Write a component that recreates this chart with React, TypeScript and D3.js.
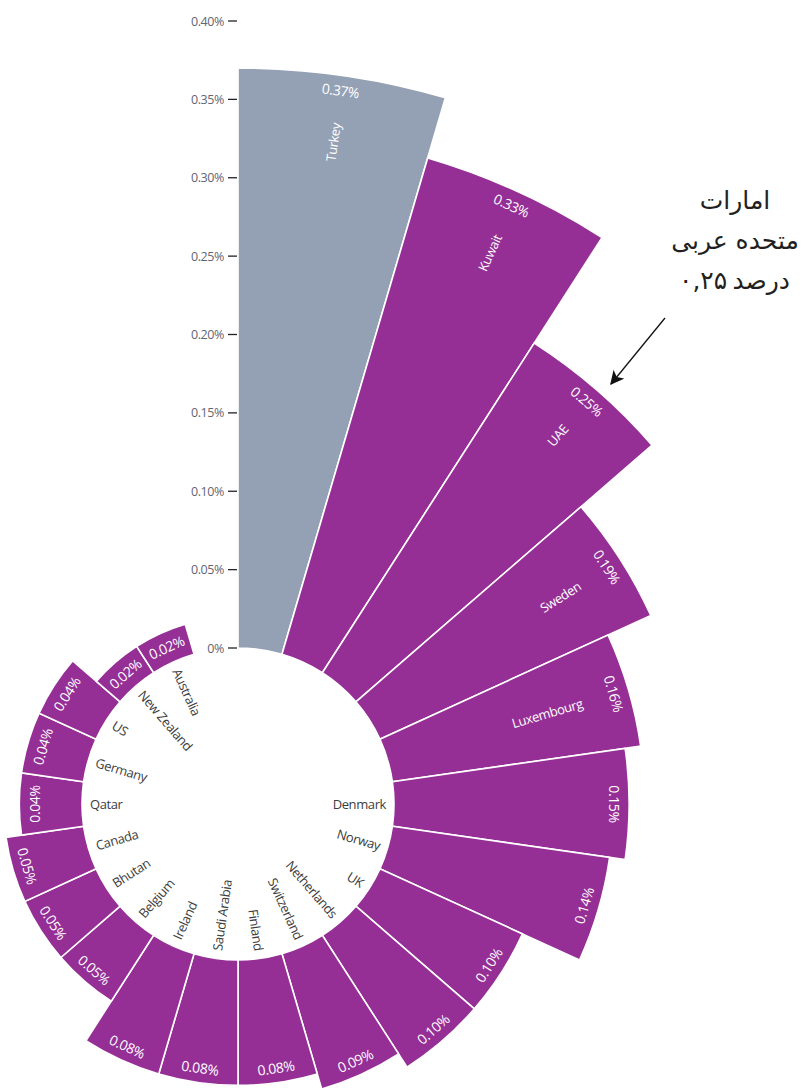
import React from 'react';
import * as d3 from 'd3';

// data (share of GDP, %)
const countries = [
  'Turkey', 'Kuwait', 'UAE', 'Sweden', 'Luxembourg', 'Denmark', 'Norway', 'UK',
  'Netherlands', 'Switzerland', 'Finland', 'Saudi Arabia', 'Ireland', 'Belgium',
  'Bhutan', 'Canada', 'Qatar', 'Germany', 'US', 'New Zealand', 'Australia',
];
const values = [
  0.37, 0.33, 0.25, 0.19, 0.16, 0.15, 0.14, 0.10, 0.10, 0.09, 0.08, 0.08, 0.08,
  0.05, 0.05, 0.05, 0.04, 0.04, 0.04, 0.02, 0.02,
];
const valueLabels = [
  '0.37%', '0.33%', '0.25%', '0.19%', '0.16%', '0.15%', '0.14%', '0.10%', '0.10%',
  '0.09%', '0.08%', '0.08%', '0.08%', '0.05%', '0.05%', '0.05%', '0.04%', '0.04%',
  '0.04%', '0.02%', '0.02%',
];
const highlighted = ['Turkey'];
const tickValues = [0, 0.05, 0.1, 0.15, 0.2, 0.25, 0.3, 0.35, 0.4];
const tickLabels = ['0%', '0.05%', '0.10%', '0.15%', '0.20%', '0.25%', '0.30%', '0.35%', '0.40%'];
const noteLines = ['امارات', 'متحده عربی'];
// last note line: number on the left, word on the right (drawn apart to avoid bidi reordering)
const noteNumber = '۰,۲۵';
const noteWord = 'درصد';

const W = 804;
const H = 1089;
const cx = 238;
const cy = 804;
const inner = 156;
const slots = 22; // one empty slot at the end, where the axis sits
const insideMin = 0.16; // names drawn inside the bar from here up

const PURPLE = '#952f96';
const GREY = '#94a1b4';
const FONT = "'Open Sans', sans-serif";
const NOTE_FONT = "'DejaVu Sans', sans-serif";

const App = () => {
  const r = d3.scaleLinear().domain([0, 0.4]).range([inner, inner + 627]);
  const angle = d3.scaleBand<number>()
    .domain(d3.range(slots))
    .range([0, 2 * Math.PI]);

  const arc = d3.arc<any>()
    .innerRadius(inner)
    .outerRadius((d) => r(d.v))
    .startAngle((d) => angle(d.i)!)
    .endAngle((d) => angle(d.i)! + angle.bandwidth());

  const pt = (rad: number, a: number) => [cx + rad * Math.sin(a), cy - rad * Math.cos(a)];

  return (
    <svg width={W} height={H} style={{ position: 'absolute', left: 0, top: 0, background: '#fff' }}>
      <g transform={`translate(${cx},${cy})`}>
        {values.map((v, i) => (
          <path
            key={countries[i]}
            d={arc({ v, i })!}
            fill={highlighted.includes(countries[i]) ? GREY : PURPLE}
            stroke="#fff"
            strokeWidth={1.6}
          />
        ))}
      </g>

      {/* value labels, tangential near the outer edge */}
      {values.map((v, i) => {
        const a = angle(i)! + angle.bandwidth() / 2;
        const deg = (a * 180) / Math.PI;
        const rot = deg > 90 && deg < 270 ? deg - 180 : deg >= 270 ? deg - 360 : deg;
        const [x, y] = pt(r(v) - 15, a);
        return (
          <text
            key={'v' + i}
            x={x}
            y={y}
            transform={`rotate(${rot},${x},${y})`}
            textAnchor="middle"
            dominantBaseline="central"
            fill="#fff"
            fontFamily={FONT}
            fontSize={14}
            letterSpacing={-0.4}
          >
            {valueLabels[i]}
          </text>
        );
      })}

      {/* country names, radial */}
      {countries.map((c, i) => {
        const a = angle(i)! + angle.bandwidth() / 2;
        const deg = (a * 180) / Math.PI;
        const inside = values[i] >= insideMin;
        const right = deg < 180;
        const rad = inside ? r(values[i]) - 48 : inner - 8;
        const [x, y] = pt(rad, a);
        const rot = right ? deg - 90 : deg - 270;
        return (
          <text
            key={'n' + i}
            x={x}
            y={y}
            transform={`rotate(${rot},${x},${y})`}
            textAnchor={right ? 'end' : 'start'}
            dominantBaseline="central"
            fill={inside ? '#fff' : '#3d3d3d'}
            fontFamily={FONT}
            fontSize={13}
            letterSpacing={-0.4}
          >
            {c}
          </text>
        );
      })}

      {/* radial axis */}
      <g>
        {tickValues.map((t, i) => (
          <g key={t} transform={`translate(${cx},${cy - r(t)})`}>
            <line x1={-10} x2={-1} y1={0} y2={0} stroke="#222" strokeWidth={1.3} />
            <text
              x={-14}
              y={0}
              textAnchor="end"
              dominantBaseline="central"
              fill="#5f6676"
              fontFamily={FONT}
              fontSize={12.5}
              letterSpacing={-0.4}
            >
              {tickLabels[i]}
            </text>
          </g>
        ))}
      </g>

      {/* annotation */}
      <defs>
        <marker id="arrow" viewBox="0 0 10 10" refX={9} refY={5} markerWidth={14} markerHeight={14}
          markerUnits="userSpaceOnUse" orient="auto">
          <path d="M0,0 L10,5 L0,10 L2.5,5 z" fill="#111" />
        </marker>
      </defs>
      <line x1={665} y1={318} x2={611} y2={384} stroke="#111" strokeWidth={1.3} markerEnd="url(#arrow)" />
      {noteLines.map((l, i) => (
        <text
          key={l}
          x={735}
          y={200 + i * 40}
          textAnchor="middle"
          dominantBaseline="central"
          fill="#231f20"
          fontFamily={NOTE_FONT}
          fontSize={25}
        >
          {l}
        </text>
      ))}
      <text x={679} y={280} textAnchor="start" dominantBaseline="central" fill="#231f20"
        fontFamily={NOTE_FONT} fontSize={25}>
        {noteNumber}
      </text>
      <text x={790} y={280} textAnchor="end" dominantBaseline="central" fill="#231f20"
        fontFamily={NOTE_FONT} fontSize={25}>
        {noteWord}
      </text>
    </svg>
  );
};

export default App;
